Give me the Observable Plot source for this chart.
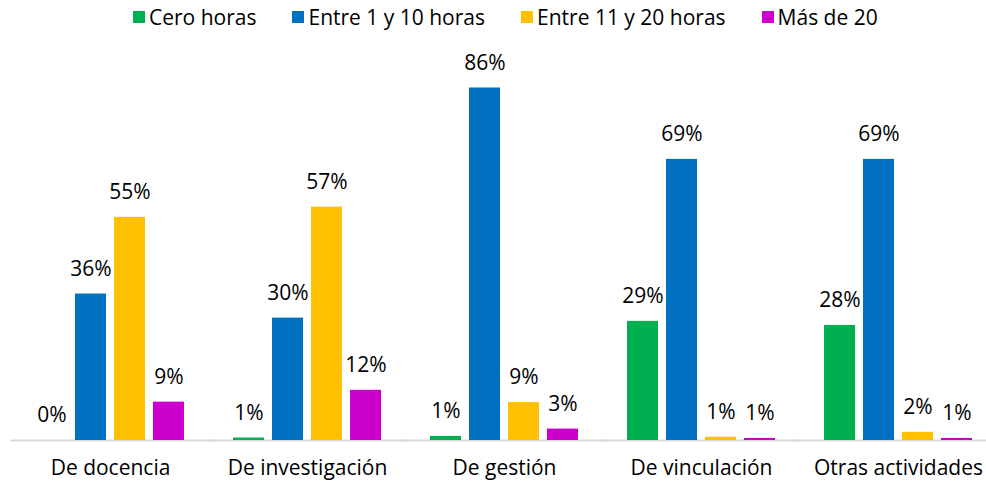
<!DOCTYPE html>
<html><head><meta charset="utf-8">
<script src="https://cdn.jsdelivr.net/npm/d3@7"></script>
<script src="https://cdn.jsdelivr.net/npm/@observablehq/plot@0.6"></script>
<style>
body{margin:0;background:#fff;font-family:"Open Sans",sans-serif;}
#legend{height:34px;display:flex;align-items:center;padding-left:133px;font-size:21px;color:#000;box-sizing:border-box;}
.item{display:flex;align-items:center;margin-right:36px;white-space:nowrap}
.sw{width:12px;height:12px;margin-right:4px;flex:none}
</style></head><body>
<div id="legend"></div><div id="chart"></div>
<script>
const categories = ["De docencia","De investigación","De gestión","De vinculación","Otras actividades"];
const series = ["Cero horas","Entre 1 y 10 horas","Entre 11 y 20 horas","Más de 20"];
const colors = ["#00b050","#0070c0","#ffc000","#cc00cc"];
const ceroHoras   = [0,    0.6,  1.0,  29.2, 28.2];
const entre1y10   = [35.9, 30.0, 86.4, 68.9, 68.9];
const entre11y20  = [54.7, 57.2, 9.3,  0.8,  2.0];
const masDe20     = [9.4,  12.3, 2.8,  0.5,  0.5];
const seriesValues = [ceroHoras, entre1y10, entre11y20, masDe20];

const data = [];
categories.forEach((c, i) => series.forEach((s, j) => data.push({category: c, series: s, value: seriesValues[j][i]})));

const legend = document.getElementById("legend");
series.forEach((s, j) => {
  const it = document.createElement("div"); it.className = "item";
  const sw = document.createElement("div"); sw.className = "sw"; sw.style.background = colors[j];
  const t = document.createElement("span"); t.textContent = s;
  it.appendChild(sw); it.appendChild(t); legend.appendChild(it);
});

const chart = Plot.plot({
  width: 986, height: 449,
  marginTop: 38.8, marginBottom: 43, marginLeft: 10, marginRight: 0,
  style: {fontFamily: "Open Sans", fontSize: "21px", color: "#000", background: "#fff", overflow: "visible"},
  fx: {domain: categories, range: [9.5, 998], paddingInner: 0.241, paddingOuter: 0.12, label: null},
  x: {domain: series, paddingInner: 0.2, paddingOuter: 0, axis: null},
  y: {domain: [0, 90], axis: null},
  color: {domain: series, range: colors},
  marks: [
    Plot.ruleY([0], {stroke: "#d9d9d9", strokeWidth: 2, insetLeft: -24.5, insetRight: -24.5}),
    Plot.barY(data, {fx: "category", x: "series", y: "value", fill: "series"}),
    Plot.text(data, {fx: "category", x: "series", y: "value", text: d => Math.round(d.value) + "%", dy: -25, fontSize: 21, fill: "#000"}),
    Plot.axisFx({anchor: "bottom", tickSize: 0, tickPadding: 20, fontSize: 21, label: null, fill: "#000"})
  ]
});
document.getElementById("chart").appendChild(chart);
</script>
</body></html>
